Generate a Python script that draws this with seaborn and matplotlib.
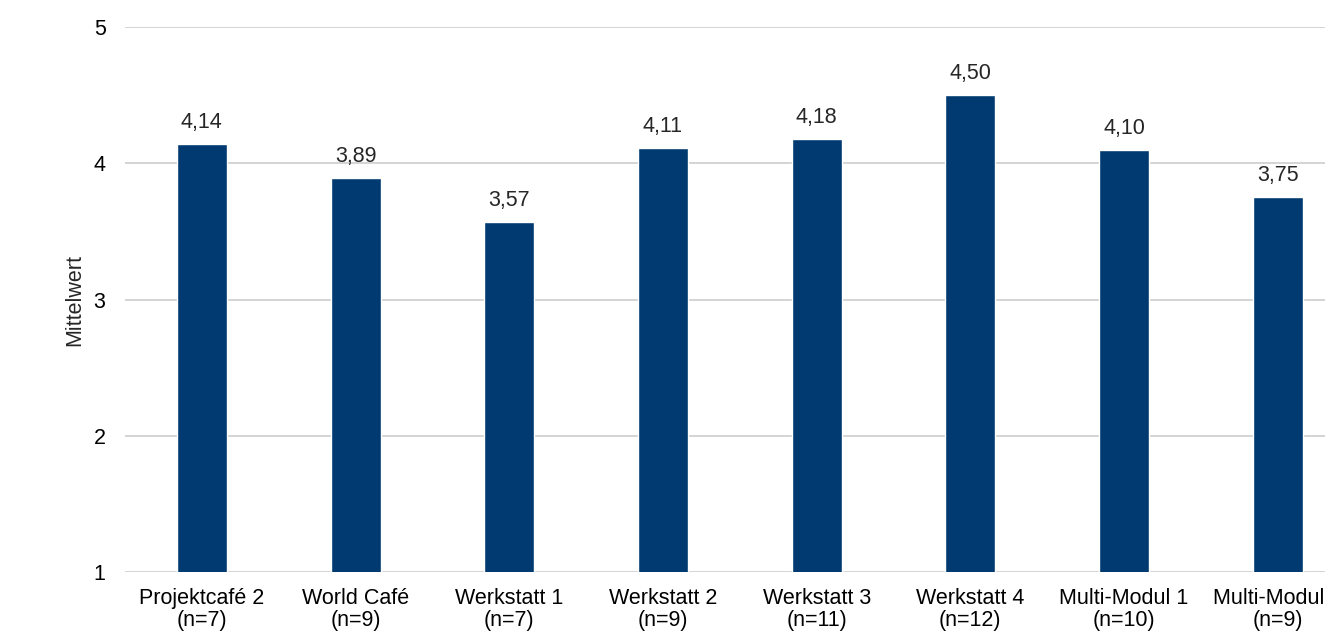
import pandas as pd
import matplotlib
matplotlib.use('Agg')
import matplotlib.pyplot as plt
import seaborn as sns

# chart data
categories = ['Projektcafé 2\n(n=7)', 'World Café\n(n=9)', 'Werkstatt 1\n(n=7)', 'Werkstatt 2\n(n=9)',
              'Werkstatt 3\n(n=11)', 'Werkstatt 4\n(n=12)', 'Multi-Modul 1\n(n=10)', 'Multi-Modul 2\n(n=9)']
mittelwerte = [4.14, 3.89, 3.57, 4.11, 4.18, 4.50, 4.10, 3.75]
y_ticks = [1, 2, 3, 4, 5]

df = pd.DataFrame({'Kategorie': categories, 'Mittelwert': mittelwerte})

sns.set_style('white')
plt.rcParams['font.family'] = ['Liberation Sans', 'DejaVu Sans']

fig = plt.figure(figsize=(13.25, 6.31), dpi=100)
# axes runs past the right edge like in the original export
ax = fig.add_axes([125 / 1325, 59 / 631, 1229.6 / 1325, 545 / 631])

sns.barplot(data=df, x='Kategorie', y='Mittelwert', color='#003A70', width=0.325,
            saturation=1, ax=ax, zorder=3)

ax.set_ylim(1, 5)
ax.set_yticks(y_ticks)
ax.set_yticklabels([str(t) for t in y_ticks])
ax.yaxis.grid(True, color='#D4D4D4', linewidth=1.4, zorder=0)
ax.xaxis.grid(False)
for s in ax.spines.values():
    s.set_visible(False)
ax.tick_params(axis='both', length=0, labelsize=15.5, colors='black')
ax.tick_params(axis='x', pad=11.5)
ax.tick_params(axis='y', pad=14)
for lbl in ax.get_xticklabels():
    lbl.set_linespacing(1.08)
ax.set_xlabel('')
ax.set_ylabel('Mittelwert', fontsize=15.5, labelpad=6)

for p, v in zip(ax.patches, mittelwerte):
    ax.annotate(f'{v:.2f}'.replace('.', ','), (p.get_x() + p.get_width() / 2, v),
                xytext=(0, 8), textcoords='offset points', ha='center', va='bottom',
                fontsize=15.5)

fig.savefig('out.png', dpi=100)
